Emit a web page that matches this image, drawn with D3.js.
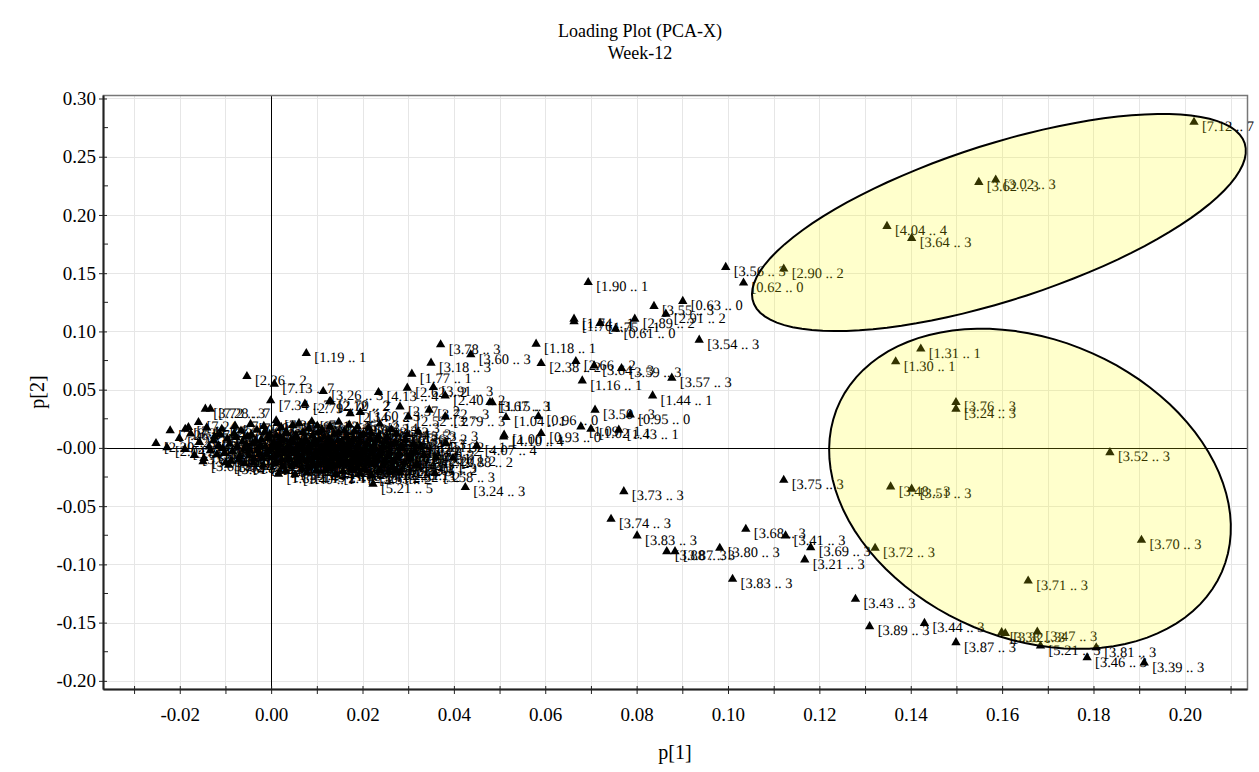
<!DOCTYPE html>
<html>
<head>
<meta charset="utf-8">
<script src="https://cdn.jsdelivr.net/npm/d3@7"></script>
<style>
  body { margin: 0; background: #fff; }
  svg text { font-family: "Liberation Serif", "Times New Roman", serif; fill: #000; }
</style>
</head>
<body>
<div id="chart"></div>
<script>
// titles / axis names
const titleLines = ["Loading Plot (PCA-X)", "Week-12"];
const xName = "p[1]";
const yName = "p[2]";

// ticks (every 0.01 on p[1], labels on every other one)
const xTicks = [-0.03, -0.02, -0.01, 0.00, 0.01, 0.02, 0.03, 0.04, 0.05, 0.06, 0.07, 0.08, 0.09,
  0.10, 0.11, 0.12, 0.13, 0.14, 0.15, 0.16, 0.17, 0.18, 0.19, 0.20, 0.21];
const xTickLabels = ["", "-0.02", "", "0.00", "", "0.02", "", "0.04", "", "0.06", "", "0.08", "",
  "0.10", "", "0.12", "", "0.14", "", "0.16", "", "0.18", "", "0.20", ""];
const yTicks = [-0.20, -0.15, -0.10, -0.05, 0.00, 0.05, 0.10, 0.15, 0.20, 0.25, 0.30];
const yTickLabels = ["-0.20", "-0.15", "-0.10", "-0.05", "-0.00", "0.05", "0.10", "0.15", "0.20", "0.25", "0.30"];
const yMinorTicks = [-0.175, -0.125, -0.075, -0.025, 0.025, 0.075, 0.125, 0.175, 0.225, 0.275];

// loadings: [p1, p2, bucket start (ppm)]
const loadings = [
  // upper highlighted group
  [0.2020, 0.2797, 7.12], [0.1549, 0.2281, 3.62], [0.1586, 0.2301, 3.02], [0.1348, 0.1903, 4.04],
  [0.1402, 0.1800, 3.64], [0.0995, 0.1551, 3.56], [0.1122, 0.1537, 2.90], [0.1034, 0.1417, 0.62],
  // lower highlighted group
  [0.1422, 0.0850, 1.31], [0.1367, 0.0741, 1.30], [0.1499, 0.0391, 3.76], [0.1499, 0.0334, 3.24],
  [0.1836, -0.0039, 3.52], [0.1356, -0.0333, 3.48], [0.1402, -0.0353, 3.51], [0.1905, -0.0791, 3.70],
  [0.1322, -0.0860, 3.72], [0.1657, -0.1141, 3.71], [0.1599, -0.1585, 3.38], [0.1607, -0.1592, 3.32],
  [0.1677, -0.1579, 3.47], [0.1684, -0.1699, 5.21], [0.1806, -0.1714, 3.81], [0.1786, -0.1800, 3.46],
  [0.1911, -0.1845, 3.39],
  // lower arm
  [0.1122, -0.0276, 3.75], [0.0772, -0.0374, 3.73], [0.0744, -0.0611, 3.74], [0.0801, -0.0754, 3.83],
  [0.0866, -0.0889, 3.88], [0.0884, -0.0889, 3.87], [0.0982, -0.0860, 3.80], [0.1039, -0.0697, 3.68],
  [0.1126, -0.0754, 3.41], [0.1181, -0.0855, 3.69], [0.1168, -0.0960, 3.21], [0.1010, -0.1127, 3.83],
  [0.1279, -0.1298, 3.43], [0.1310, -0.1533, 3.89], [0.1430, -0.1505, 3.44], [0.1499, -0.1671, 3.87],
  // upper arm
  [0.0694, 0.1422, 1.90], [0.0901, 0.1259, 0.63], [0.0838, 0.1216, 3.55], [0.0864, 0.1150, 2.91],
  [0.0796, 0.1107, 2.89], [0.0663, 0.1107, 1.74], [0.0663, 0.1084, 1.76], [0.0720, 0.1070, 1.75],
  [0.0754, 0.1021, 0.61], [0.0937, 0.0927, 3.54], [0.0580, 0.0892, 1.18], [0.0591, 0.0726, 2.38],
  [0.0667, 0.0743, 2.66], [0.0707, 0.0706, 3.64], [0.0767, 0.0683, 3.59], [0.0877, 0.0600, 3.57],
  [0.0681, 0.0577, 1.16], [0.0835, 0.0448, 1.44], [0.0709, 0.0326, 3.50], [0.0786, 0.0285, 0.95],
  [0.0585, 0.0271, 0.96], [0.0514, 0.0262, 1.04], [0.0484, 0.0390, 1.15], [0.0678, 0.0182, 1.09],
  [0.0700, 0.0162, 1.02], [0.0761, 0.0154, 1.43], [0.0510, 0.0111, 1.00], [0.0591, 0.0125, 0.93],
  // around the origin
  [0.0077, 0.0812, 1.19], [-0.0053, 0.0614, 2.26], [0.0007, 0.0549, 7.13], [0.0371, 0.0887, 3.78],
  [0.0437, 0.0801, 3.60], [0.0350, 0.0729, 3.18], [0.0308, 0.0635, 1.77], [0.0114, 0.0485, 3.26],
  [0.0130, 0.0400, 2.70], [0.0235, 0.0477, 4.13], [0.0298, 0.0515, 2.62], [0.0355, 0.0520, 3.91],
  [0.0381, 0.0448, 2.40], [0.0479, 0.0391, 3.67], [-0.0001, 0.0406, 7.34], [0.0074, 0.0377, 2.79],
  [0.0128, 0.0397, 2.12], [0.0173, 0.0296, 2.14], [0.0282, 0.0354, 2.37], [0.0300, 0.0268, 2.52],
  [0.0346, 0.0326, 3.72], [0.0381, 0.0268, 3.79], [-0.0144, 0.0334, 3.72], [-0.0133, 0.0334, 7.28],
  [0.0011, 0.0234, 7.39], [0.0195, 0.0305, 3.60], [-0.0221, 0.0148, 7.26], [-0.0188, 0.0162, 3.36],
  [-0.0181, 0.0176, 7.41], [-0.0159, 0.0219, 7.24], [-0.0252, 0.0039, 2.30], [-0.0228, 0.0004, 2.04],
  [-0.0147, -0.0090, 3.63], [0.0361, -0.0082, 2.20], [0.0398, -0.0087, 2.88], [0.0425, -0.0339, 3.24],
  [0.0223, -0.0310, 5.21], [0.0016, -0.0224, 1.83], [0.0450, 0.0019, 4.07], [0.0509, 0.0096, 4.10],
  [0.0383, 0.0039, 1.32], [0.0320, -0.0153, 2.01], [0.0359, -0.0219, 3.58], [0.0275, -0.0196, 1.26],
  // dense core
  [-0.0115, 0.0021, 3.86], [-0.0102, -0.0043, 3.65], [-0.0096, 0.0078, 7.36], [-0.0088, -0.0112, 3.66],
  [-0.0081, 0.0124, 7.30], [-0.0074, 0.0012, 2.51], [-0.0069, -0.0071, 3.92], [-0.0063, 0.0052, 4.17],
  [-0.0058, -0.0135, 3.84], [-0.0052, 0.0098, 7.44], [-0.0047, -0.0018, 2.08], [-0.0041, 0.0036, 1.33],
  [-0.0037, -0.0094, 3.97], [-0.0031, 0.0153, 7.22], [-0.0026, -0.0052, 3.93], [-0.0022, 0.0069, 2.68],
  [-0.0017, -0.0148, 4.22], [-0.0012, 0.0011, 3.28], [-0.0008, -0.0029, 3.34], [-0.0003, 0.0117, 7.62],
  [0.0002, -0.0083, 3.99], [0.0006, 0.0047, 2.45], [0.0010, -0.0121, 4.00], [0.0014, 0.0026, 3.85],
  [0.0018, -0.0007, 2.19], [0.0021, 0.0088, 2.74], [0.0025, -0.0164, 1.85], [0.0029, -0.0046, 3.68],
  [0.0033, 0.0139, 7.50], [0.0036, 0.0004, 3.37], [0.0040, -0.0098, 4.05], [0.0043, 0.0061, 2.83],
  [0.0047, -0.0027, 3.95], [0.0051, -0.0139, 1.48], [0.0054, 0.0109, 2.99], [0.0058, 0.0017, 3.90],
  [0.0061, -0.0062, 3.82], [0.0065, 0.0042, 2.56], [0.0068, -0.0181, 1.41], [0.0072, -0.0011, 3.45],
  [0.0075, 0.0075, 2.11], [0.0079, -0.0108, 4.08], [0.0082, 0.0168, 2.73], [0.0086, -0.0039, 3.30],
  [0.0089, 0.0029, 3.71], [0.0093, -0.0151, 1.28], [0.0096, 0.0057, 2.33], [0.0100, -0.0074, 3.40],
  [0.0103, 0.0132, 2.41], [0.0107, -0.0016, 3.78], [0.0110, 0.0008, 2.94], [0.0114, -0.0127, 3.27],
  [0.0117, 0.0093, 2.48], [0.0121, -0.0053, 3.23], [0.0124, 0.0036, 1.36], [0.0128, -0.0171, 2.22],
  [0.0131, 0.0021, 3.07], [0.0135, -0.0089, 3.46], [0.0138, 0.0118, 2.58], [0.0142, -0.0032, 2.86],
  [0.0146, 0.0064, 1.21], [0.0149, -0.0142, 2.27], [0.0153, 0.0003, 1.62], [0.0157, -0.0066, 3.19],
  [0.0160, 0.0147, 2.64], [0.0164, -0.0112, 1.57], [0.0168, 0.0048, 2.17], [0.0172, -0.0021, 1.70],
  [0.0176, -0.0158, 2.25], [0.0180, 0.0082, 1.92], [0.0184, -0.0076, 2.98], [0.0188, 0.0015, 1.53],
  [0.0192, -0.0124, 2.06], [0.0196, 0.0106, 3.05], [0.0200, -0.0044, 1.66], [0.0205, -0.0185, 2.63],
  [0.0209, 0.0037, 1.97], [0.0213, -0.0098, 2.69], [0.0218, 0.0129, 1.88], [0.0222, -0.0013, 1.60],
  [0.0227, -0.0143, 3.01], [0.0232, 0.0071, 2.47], [0.0237, -0.0061, 2.80], [0.0242, 0.0005, 1.64],
  [0.0248, -0.0119, 2.28], [0.0253, 0.0092, 3.10], [0.0259, -0.0035, 2.71], [0.0265, -0.0167, 3.22],
  [0.0271, 0.0043, 1.29], [0.0277, -0.0082, 2.92], [0.0284, 0.0016, 2.55], [0.0291, -0.0129, 1.94],
  [0.0298, 0.0114, 2.76], [0.0306, -0.0051, 1.80], [0.0314, -0.0024, 3.15], [-0.0133, -0.0022, 3.88],
  [-0.0124, 0.0097, 7.31], [-0.0108, 0.0161, 7.27], [-0.0093, -0.0147, 3.61], [-0.0079, 0.0189, 7.20],
  [-0.0045, 0.0203, 7.40], [-0.0016, 0.0186, 7.35], [0.0013, 0.0211, 7.18], [0.0047, 0.0194, 2.85],
  [0.0089, 0.0226, 3.31], [0.0129, 0.0184, 2.44], [0.0171, 0.0197, 2.59], [0.0214, 0.0173, 3.13],
  [0.0263, 0.0158, 2.34], [0.0322, 0.0139, 3.53], [0.0032, -0.0199, 1.39], [0.0078, -0.0213, 1.45],
  [0.0119, -0.0192, 2.16], [0.0157, -0.0204, 1.86], [0.0194, -0.0221, 2.50], [0.0236, -0.0198, 1.23],
  [0.0283, -0.0214, 2.32],
  [-0.0126, 0.0063, 7.37], [-0.0119, -0.0058, 3.67], [-0.0112, 0.0115, 7.29], [-0.0106, -0.0004, 2.02],
  [-0.0099, -0.0126, 3.62], [-0.0091, 0.0033, 2.09], [-0.0085, -0.0031, 3.98], [-0.0077, 0.0091, 7.45],
  [-0.0071, -0.0102, 4.02], [-0.0066, 0.0146, 7.21], [-0.0059, -0.0009, 3.94], [-0.0054, 0.0027, 1.34],
  [-0.0049, -0.0067, 3.96], [-0.0043, 0.0112, 7.48], [-0.0039, -0.0131, 4.20], [-0.0034, 0.0058, 2.67],
  [-0.0029, -0.0021, 3.35], [-0.0024, 0.0019, 2.49], [-0.0019, -0.0088, 4.03], [-0.0014, 0.0137, 7.55],
  [-0.0010, -0.0057, 3.91], [-0.0005, 0.0082, 2.77], [0.0000, -0.0016, 2.18], [0.0004, 0.0021, 3.39],
  [0.0008, -0.0138, 4.11], [0.0012, 0.0103, 7.58], [0.0016, -0.0061, 3.81], [0.0019, 0.0039, 2.43],
  [0.0023, -0.0104, 4.06], [0.0027, 0.0072, 2.81], [0.0031, -0.0022, 3.70], [0.0034, 0.0124, 7.52],
  [0.0038, -0.0079, 3.29], [0.0041, 0.0013, 3.42], [0.0045, -0.0153, 1.46], [0.0049, 0.0049, 2.88],
  [0.0052, -0.0041, 3.83], [0.0056, 0.0092, 2.97], [0.0060, -0.0117, 1.49], [0.0063, 0.0008, 3.44],
  [0.0067, -0.0086, 3.36], [0.0070, 0.0133, 2.72], [0.0074, -0.0029, 3.47], [0.0077, 0.0055, 2.13],
  [0.0081, -0.0162, 1.27], [0.0084, 0.0018, 3.73], [0.0088, -0.0097, 4.09], [0.0091, 0.0101, 2.39],
  [0.0095, -0.0054, 3.25], [0.0098, 0.0034, 2.96], [0.0102, -0.0137, 1.34], [0.0105, 0.0071, 2.31],
  [0.0109, -0.0035, 3.20], [0.0112, 0.0154, 2.42], [0.0116, -0.0082, 3.48], [0.0119, 0.0019, 3.08],
  [0.0123, -0.0119, 2.24], [0.0126, 0.0083, 2.57], [0.0130, -0.0047, 2.87], [0.0133, 0.0045, 1.22],
  [0.0137, -0.0156, 2.26], [0.0140, 0.0009, 1.63], [0.0144, -0.0071, 3.17], [0.0147, 0.0127, 2.65],
  [0.0151, -0.0098, 1.56], [0.0155, 0.0059, 2.15], [0.0159, -0.0012, 1.71], [0.0162, -0.0133, 2.23],
  [0.0166, 0.0094, 1.91], [0.0170, -0.0058, 2.97], [0.0174, 0.0027, 1.54], [0.0178, -0.0109, 2.07],
  [0.0182, 0.0139, 3.04], [0.0186, -0.0031, 1.67], [0.0190, -0.0172, 2.61], [0.0194, 0.0054, 1.98],
  [0.0198, -0.0087, 2.68], [0.0202, 0.0117, 1.89], [0.0207, -0.0008, 1.59], [0.0211, -0.0128, 3.00],
  [0.0216, 0.0079, 2.46], [0.0220, -0.0049, 2.81], [0.0225, 0.0021, 1.65], [0.0230, -0.0106, 2.29],
  [0.0235, 0.0101, 3.11], [0.0240, -0.0027, 2.70], [0.0245, -0.0154, 3.21], [0.0250, 0.0052, 1.30],
  [0.0256, -0.0073, 2.93], [0.0262, 0.0028, 2.54], [0.0268, -0.0115, 1.95], [0.0274, 0.0121, 2.75],
  [0.0280, -0.0041, 1.81], [0.0287, -0.0004, 3.16], [0.0295, 0.0067, 3.54], [0.0303, -0.0093, 2.35],
  [0.0311, 0.0031, 1.37], [0.0319, -0.0141, 3.12], [0.0327, 0.0009, 2.39], [0.0335, -0.0063, 1.78],
  [-0.0201, 0.0082, 2.29], [-0.0189, -0.0011, 3.86], [-0.0176, 0.0121, 7.25], [-0.0168, -0.0064, 3.60],
  [-0.0157, 0.0049, 7.38], [-0.0149, -0.0118, 3.63], [-0.0141, 0.0173, 7.32], [-0.0136, 0.0009, 2.05],
  [0.0022, 0.0178, 7.16], [0.0061, 0.0212, 2.86], [0.0101, 0.0189, 3.32], [0.0148, 0.0221, 2.45],
  [0.0189, 0.0181, 2.60], [0.0238, 0.0204, 3.14], [0.0052, -0.0229, 1.40], [0.0098, -0.0196, 1.44],
  [0.0141, -0.0227, 2.17], [0.0179, -0.0189, 1.87], [0.0219, -0.0236, 2.51], [0.0258, -0.0201, 1.24]
];

// highlighted groups: centre and two conjugate semi-axes, all in (p1, p2) units
const groups = [
  { center: [0.1593, 0.1935], major: [0.0538, 0.0680], minor: [0.0052, -0.0637] },
  { center: [0.1661, -0.0351], major: [0.0420, -0.0713], minor: [-0.0130, -0.1175] }
];

const W = 1259, H = 772;
const plot = { left: 103, right: 1247, top: 95, bottom: 689 };

const x = d3.scaleLinear().domain([-0.0368, 0.2136]).range([plot.left, plot.right]);
const y = d3.scaleLinear().domain([-0.2070, 0.3030]).range([plot.bottom, plot.top]);

const svg = d3.select('#chart').append('svg')
    .attr('width', W)
    .attr('height', H);

// grid
const grid = svg.append('g').attr('stroke', '#e6e6e6').attr('stroke-width', 1);
grid.selectAll('line.gx')
    .data(xTicks)
    .join('line')
        .attr('class', 'gx')
        .attr('x1', d => Math.round(x(d)) + 0.5)
        .attr('x2', d => Math.round(x(d)) + 0.5)
        .attr('y1', plot.top)
        .attr('y2', plot.bottom);
grid.selectAll('line.gy')
    .data(yTicks)
    .join('line')
        .attr('class', 'gy')
        .attr('x1', plot.left)
        .attr('x2', plot.right)
        .attr('y1', d => Math.round(y(d)) + 0.5)
        .attr('y2', d => Math.round(y(d)) + 0.5);

// zero lines
svg.append('line')
    .attr('x1', plot.left).attr('x2', plot.right)
    .attr('y1', Math.round(y(0)) + 0.5).attr('y2', Math.round(y(0)) + 0.5)
    .attr('stroke', '#000');
svg.append('line')
    .attr('x1', Math.round(x(0)) + 0.5).attr('x2', Math.round(x(0)) + 0.5)
    .attr('y1', plot.top).attr('y2', plot.bottom)
    .attr('stroke', '#000');

// points + labels
const bucket = v => ('[' + v.toFixed(2) + ' .. ' + (v + 0.01).toFixed(2) + ']').slice(0, 10);
const tri = d3.symbol(d3.symbolTriangle, 38);

const pts = svg.append('g');
pts.selectAll('path')
    .data(loadings)
    .join('path')
        .attr('d', tri)
        .attr('transform', d => `translate(${x(d[0])},${y(d[1])})`)
        .attr('fill', '#000');
pts.selectAll('text')
    .data(loadings)
    .join('text')
        .attr('x', d => x(d[0]) + 8)
        .attr('y', d => y(d[1]) + 9)
        .attr('font-size', 14.5)
        .style('text-rendering', 'geometricPrecision')
        .text(d => bucket(d[2]));

// highlight ellipses, drawn over the points
const steps = d3.range(0, 97);
const ring = d3.line().curve(d3.curveLinearClosed);
svg.append('g')
    .selectAll('path')
    .data(groups)
    .join('path')
        .attr('d', g => ring(steps.map(i => {
            const t = i / 97 * 2 * Math.PI;
            return [
                x(g.center[0] + g.major[0] * Math.cos(t) + g.minor[0] * Math.sin(t)),
                y(g.center[1] + g.major[1] * Math.cos(t) + g.minor[1] * Math.sin(t))
            ];
        })))
        .attr('fill', 'rgba(255,255,0,0.2)')
        .attr('stroke', '#000')
        .attr('stroke-width', 2);

// frame
svg.append('rect')
    .attr('x', plot.left + 0.5)
    .attr('y', plot.top + 0.5)
    .attr('width', plot.right - plot.left)
    .attr('height', plot.bottom - plot.top)
    .attr('fill', 'none')
    .attr('stroke', '#777')
    .attr('stroke-width', 1.5);

// bottom axis
const xAxis = svg.append('g')
    .attr('transform', `translate(0,${plot.bottom})`)
    .call(d3.axisBottom(x)
        .tickValues(xTicks)
        .tickFormat((d, i) => xTickLabels[i])
        .tickSizeInner(5)
        .tickSizeOuter(0)
        .tickPadding(14));
xAxis.select('.domain').attr('stroke', '#222').attr('stroke-width', 2);
xAxis.selectAll('.tick line').attr('y1', -3).attr('stroke', '#222');
xAxis.selectAll('.tick text')
    .attr('font-family', '"Liberation Serif", serif')
    .attr('font-size', 19)
    .attr('fill', '#000');

// left axis
const yAxis = svg.append('g')
    .attr('transform', `translate(${plot.left},0)`)
    .call(d3.axisLeft(y)
        .tickValues(yTicks)
        .tickFormat((d, i) => yTickLabels[i])
        .tickSizeInner(4)
        .tickSizeOuter(0)
        .tickPadding(3));
yAxis.select('.domain').attr('stroke', '#222').attr('stroke-width', 2);
yAxis.selectAll('.tick line').attr('x2', 4).attr('x1', -4).attr('stroke', '#222');
yAxis.selectAll('.tick text')
    .attr('font-family', '"Liberation Serif", serif')
    .attr('font-size', 19)
    .attr('fill', '#000');
yAxis.selectAll('line.minor')
    .data(yMinorTicks)
    .join('line')
        .attr('class', 'minor')
        .attr('x1', 0).attr('x2', 5)
        .attr('y1', d => y(d)).attr('y2', d => y(d))
        .attr('stroke', '#222');

// titles
svg.append('g')
    .selectAll('text')
    .data(titleLines)
    .join('text')
        .attr('x', 640)
        .attr('y', (d, i) => 37 + i * 22)
        .attr('text-anchor', 'middle')
        .attr('font-size', 18)
        .text(d => d);

svg.append('text')
    .attr('x', (plot.left + plot.right) / 2)
    .attr('y', 759)
    .attr('text-anchor', 'middle')
    .attr('font-size', 20)
    .text(xName);

svg.append('text')
    .attr('transform', `translate(44,${(plot.top + plot.bottom) / 2}) rotate(-90)`)
    .attr('text-anchor', 'middle')
    .attr('font-size', 20)
    .text(yName);
</script>
</body>
</html>
